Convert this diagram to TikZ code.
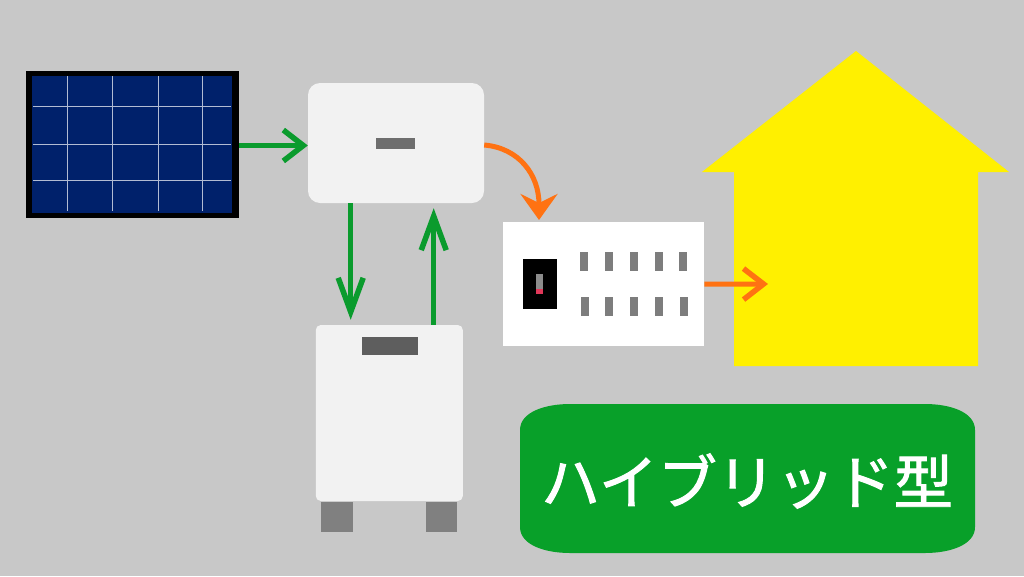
\documentclass[tikz,border=0pt]{standalone}
\usepackage{fontspec}
\newfontfamily\cjk[FakeBold=1.6]{Noto Sans CJK JP}
\usepackage[svgnames]{xcolor}
\usepackage{tikz}
\usetikzlibrary{arrows.meta}
\definecolor{wall}{HTML}{C8C8C8}
\definecolor{unit}{HTML}{F2F2F2}
\definecolor{cell}{HTML}{00216B}
\definecolor{flow}{HTML}{0A9B2D}
\definecolor{feed}{HTML}{FF7212}
\definecolor{house}{HTML}{FFF000}
\definecolor{badge}{HTML}{08A029}
\tikzset{%
	block/.style={
		rectangle,
		inner sep=0pt,
		draw=none
	},
	block-unit/.style={ block, fill=unit },
	block-slot/.style={ block, fill=Gray!98!black, minimum width=8pt, minimum height=19pt },
	flow-dc/.style={ draw=flow, line width=4.5pt },
	flow-ac/.style={ draw=feed, line width=5pt },
	tip-wide/.style={ -{Straight Barb[length=20pt,width=31pt,line width=5.5pt]} },
	tip-long/.style={ -{Straight Barb[length=34pt,width=25pt,line width=5.5pt]} },
	tip-ac/.style={ -{Stealth[length=26pt,width=37pt,inset=9pt]} },
}
\begin{document}
\begin{tikzpicture}[x=1pt, y=-1pt]
\path[use as bounding box, fill=wall] (0,0) rectangle (1024,576);

% house
\fill[house] (856,51) -- (1009,172) -- (978,172) -- (978,366) -- (734,366) -- (734,172) -- (702,172) -- cycle;
\coordinate (house-in) at (768,284);

% solar panel
\node[block, fill=black, minimum width=213pt, minimum height=147pt] (panel) at (132.5,144.5) {};
\node[block, fill=cell, minimum width=200pt, minimum height=137pt] (cells) at (132,144.5) {};
\foreach \x in {67,112.7,158,202.7}
	\draw[white!70!cell, line width=1pt] (\x,76) -- (\x,211);
\foreach \y in {106,144.3,180}
	\draw[white!70!cell, line width=1pt] (33,\y) -- (231,\y);

% inverter
\node[block-unit, rounded corners=12pt, minimum width=176pt, minimum height=120pt] (inverter) at (396,143) {};
\node[block, fill=black!57, minimum width=39pt, minimum height=11pt] (inverter-slot) at (395.5,143.5) {};

% battery
\node[block-unit, rounded corners=5pt, minimum width=147pt, minimum height=176pt] (battery) at (389.3,413) {};
\node[block, fill=black!63, minimum width=56pt, minimum height=18pt] (battery-slot) at (389.5,345.7) {};
\node[block, fill=black!50, minimum width=31.5pt, minimum height=30pt] (foot-1) at (336.8,517) {};
\node[block, fill=black!50, minimum width=31.5pt, minimum height=30pt] (foot-2) at (441.5,517) {};

% breaker box
\node[block, fill=white, minimum width=201.5pt, minimum height=124pt] (breaker) at (603.4,284.2) {};
\node[block, fill=black, minimum width=34.5pt, minimum height=50pt] (switch) at (539.8,284) {};
\node[block, fill=black!45, minimum width=7pt, minimum height=20pt] (lever) at (539.8,284) {};
\node[block, fill=Crimson!85!white, minimum width=7pt, minimum height=5pt] (lever-tip) at (539.8,291.5) {};
\foreach \m/\x in {1/584,2/608.7,3/633.7,4/658.7,5/683}
	\node[block-slot] (slot-top-\m) at (\x,261.5) {};
\foreach \m/\x in {1/584.7,2/609.3,3/634.3,4/659,5/683.7}
	\node[block-slot] (slot-bottom-\m) at (\x,306.7) {};

% connections
\draw[flow-dc, tip-wide] ([yshift=-1pt]panel.east) -- ([yshift=-1pt]panel.east -| inverter.west);
\draw[flow-dc, tip-long] ([xshift=-45.3pt]inverter.south) -- ([xshift=-38.6pt, yshift=5pt]battery.north);
\draw[flow-dc, tip-long] ([xshift=44.4pt]battery.north) -- ([xshift=37.7pt, yshift=-5pt]inverter.south);
\draw[flow-ac, tip-ac] ([yshift=-2pt]inverter.east) .. controls +(35,3) and +(0,-45) .. ([xshift=-64.4pt, yshift=2pt]breaker.north);
\draw[flow-ac, tip-wide] (breaker.east) -- (house-in);

% type label
\fill[badge] (520,430) .. controls (520,412) and (545,404) .. (570,404) -- (925,404) .. controls (950,404) and (975,412) .. (975,430) -- (975,527) .. controls (975,545) and (950,553) .. (925,553) -- (570,553) .. controls (545,553) and (520,545) .. (520,527) -- cycle;
\node[white, inner sep=0pt, font=\cjk\fontsize{59}{60}\selectfont] (type-label) at (747,481) {ハイブリッド型};

\end{tikzpicture}
\end{document}
